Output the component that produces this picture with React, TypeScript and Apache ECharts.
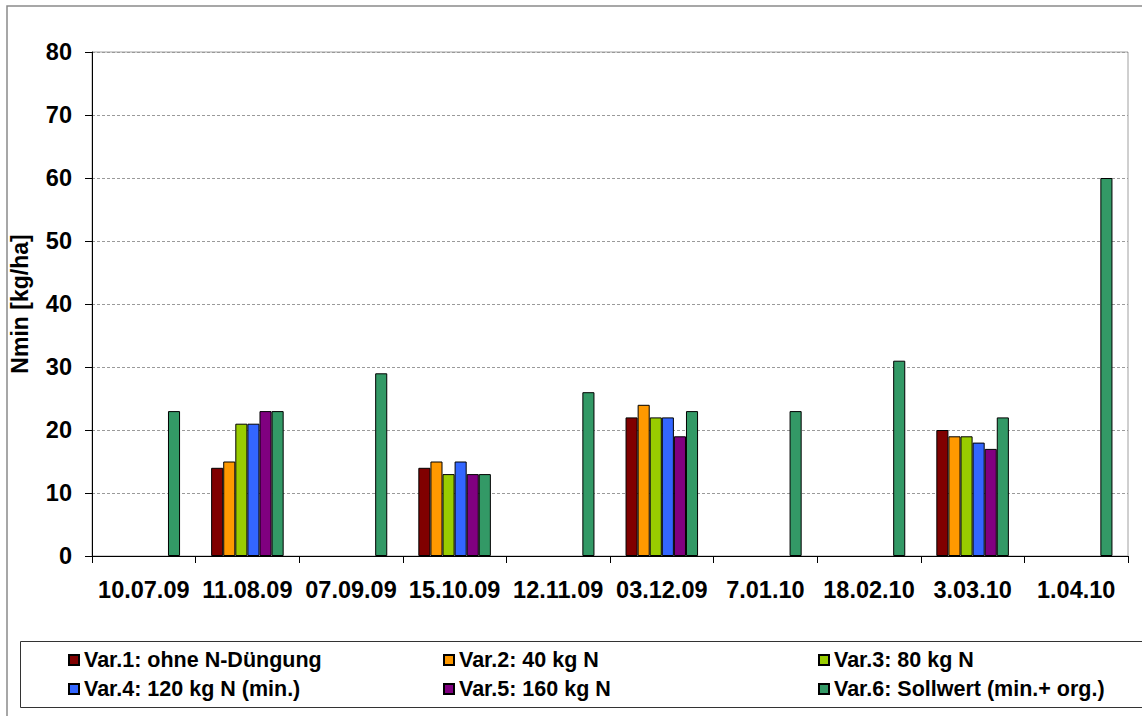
import React, { useEffect, useRef } from "react";
import * as echarts from "echarts";

const categories = ["10.07.09", "11.08.09", "07.09.09", "15.10.09", "12.11.09", "03.12.09", "7.01.10", "18.02.10", "3.03.10", "1.04.10"];
const seriesNames = [
  "Var.1: ohne N-Düngung",
  "Var.2: 40 kg N",
  "Var.3: 80 kg N",
  "Var.4: 120 kg N (min.)",
  "Var.5: 160 kg N",
  "Var.6: Sollwert (min.+ org.)",
];
const var1 = [null, 14, null, 14, null, 22, null, null, 20, null];
const var2 = [null, 15, null, 15, null, 24, null, null, 19, null];
const var3 = [null, 21, null, 13, null, 22, null, null, 19, null];
const var4 = [null, 21, null, 15, null, 22, null, null, 18, null];
const var5 = [null, 23, null, 13, null, 19, null, null, 17, null];
const var6 = [23, 23, 29, 13, 26, 23, 23, 31, 22, 60];
const seriesValues = [var1, var2, var3, var4, var5, var6];
const colors = ["#800000", "#FF9900", "#99CC00", "#3366FF", "#800080", "#339966"];
const yTicks = { min: 0, max: 80, interval: 10 };
const axisTitle = "Nmin [kg/ha]";

const FONT = "'Liberation Sans', Arial, sans-serif";

export default function App() {
  const ref = useRef<HTMLDivElement>(null);
  useEffect(() => {
    if (!ref.current) return;
    const chart = echarts.init(ref.current, null, { renderer: "svg" });
    const legendPos = [
      { left: 68, top: 649 },
      { left: 443, top: 649 },
      { left: 818, top: 649 },
      { left: 68, top: 678 },
      { left: 443, top: 678 },
      { left: 818, top: 678 },
    ];
    const option = {
      animation: false,
      backgroundColor: "#ffffff",
      textStyle: { fontFamily: FONT },
      grid: {
        left: 92,
        right: 14,
        top: 52,
        bottom: 160,
        show: true,
        borderColor: "#a0a0a0",
        borderWidth: 1,
      },
      legend: seriesNames.map((n, i) => ({
        data: [n],
        left: legendPos[i].left,
        top: legendPos[i].top,
        padding: 0,
        icon: "rect",
        itemWidth: 10,
        itemHeight: 10,
        selectedMode: false,
        textStyle: { fontSize: 21.5, fontWeight: "bold", color: "#000", fontFamily: FONT },
      })),
      xAxis: {
        type: "category",
        data: categories,
        axisLine: { show: true, lineStyle: { color: "#000", width: 1 } },
        axisTick: { show: true, length: 7, lineStyle: { color: "#000" } },
        axisLabel: { fontSize: 23.5, fontWeight: "bold", color: "#000", margin: 22, fontFamily: FONT, interval: 0 },
        splitLine: { show: false },
      },
      yAxis: {
        type: "value",
        min: yTicks.min,
        max: yTicks.max,
        interval: yTicks.interval,
        name: axisTitle,
        nameLocation: "middle",
        nameGap: 61,
        nameTextStyle: { fontSize: 23, fontWeight: "bold", color: "#000", fontFamily: FONT },
        axisLine: { show: true, lineStyle: { color: "#000", width: 1 } },
        axisTick: { show: true, length: 7, lineStyle: { color: "#000" } },
        axisLabel: { fontSize: 23.5, fontWeight: "bold", color: "#000", margin: 20, fontFamily: FONT },
        splitLine: { show: true, lineStyle: { color: "#9a9a9a", type: [3, 2], width: 1 } },
      },
      series: seriesNames.map((n, i) => ({
        name: n,
        type: "bar",
        data: seriesValues[i],
        barGap: "0%",
        barCategoryGap: "30%",
        itemStyle: { color: colors[i], borderColor: "#000", borderWidth: 1 },
      })),
      graphic: [
        {
          type: "rect",
          shape: { x: 7, y: 6, width: 1150, height: 720 },
          style: { fill: "none", stroke: "#8a8a8a", lineWidth: 1.5 },
          silent: true,
          z: -10,
        },
        {
          type: "rect",
          shape: { x: 20.5, y: 641.5, width: 1130, height: 66 },
          style: { fill: "none", stroke: "#333", lineWidth: 1 },
          silent: true,
        },
      ],
    };
    chart.setOption(option as any);
    return () => chart.dispose();
  }, []);
  return <div ref={ref} style={{ position: "fixed", left: 0, top: 0, width: 1142, height: 716 }} />;
}
